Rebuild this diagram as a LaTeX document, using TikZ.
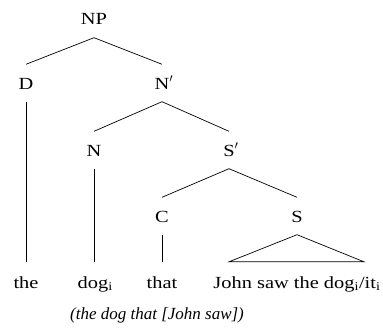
\documentclass[tikz,border=0pt]{standalone}
\usepackage{fontspec}
\setmainfont[FakeStretch=1.2]{Liberation Serif}
\newfontfamily\capfont{Liberation Serif}
\usetikzlibrary{calc}
\begin{document}
\begin{tikzpicture}[x=1pt,y=-1pt, font=\fontsize{17}{20}\selectfont,
  cat/.style={inner xsep=0pt, inner ysep=12.5pt, text height=12pt, text depth=0pt},
  leaf/.style={anchor=base, inner xsep=0pt, inner ysep=14pt, text height=12pt, text depth=0pt},
  edge/.style={line width=0.7pt}]
\useasboundingbox (0,0) rectangle (383,329);
\node[cat] (NP) at (94,19) {NP};
\node[cat] (D) at (26,83) {D};
\node[cat] (N1) at (162,83) {N\rlap{$'$}};
\node[cat] (N) at (94,150) {N};
\node[cat] (S1) at (229,150) {S\rlap{$'$}};
\node[cat] (C) at (162,216) {C};
\node[cat] (S) at (297,216) {S};
\node[leaf] (the) at (26,288) {the};
\node[leaf] (dog) at (93,288) {dog\rlap{\textsubscript{i}}};
\node[leaf] (that) at (162,288) {that};
\node[leaf] (john) at (297,288) {John saw the dog\textsubscript{i}/it\textsubscript{i}};
\node[anchor=base] (cap) at (157,319) {\capfont\itshape (the dog that [John saw])};
\draw[edge] (NP.south) -- (D.north);
\draw[edge] (NP.south) -- (N1.north);
\draw[edge] (N1.south) -- (N.north);
\draw[edge] (N1.south) -- (S1.north);
\draw[edge] (S1.south) -- (C.north);
\draw[edge] (S1.south) -- (S.north);
\draw[edge] (D.south) -- (D.south |- the.north);
\draw[edge] (N.south) -- (N.south |- dog.north);
\draw[edge] (C.south) -- (C.south |- that.north);
\draw[edge] (S.south) -- ($(john.north)+(-68,0)$) -- ($(john.north)+(67,0)$) -- cycle;
\end{tikzpicture}
\end{document}
